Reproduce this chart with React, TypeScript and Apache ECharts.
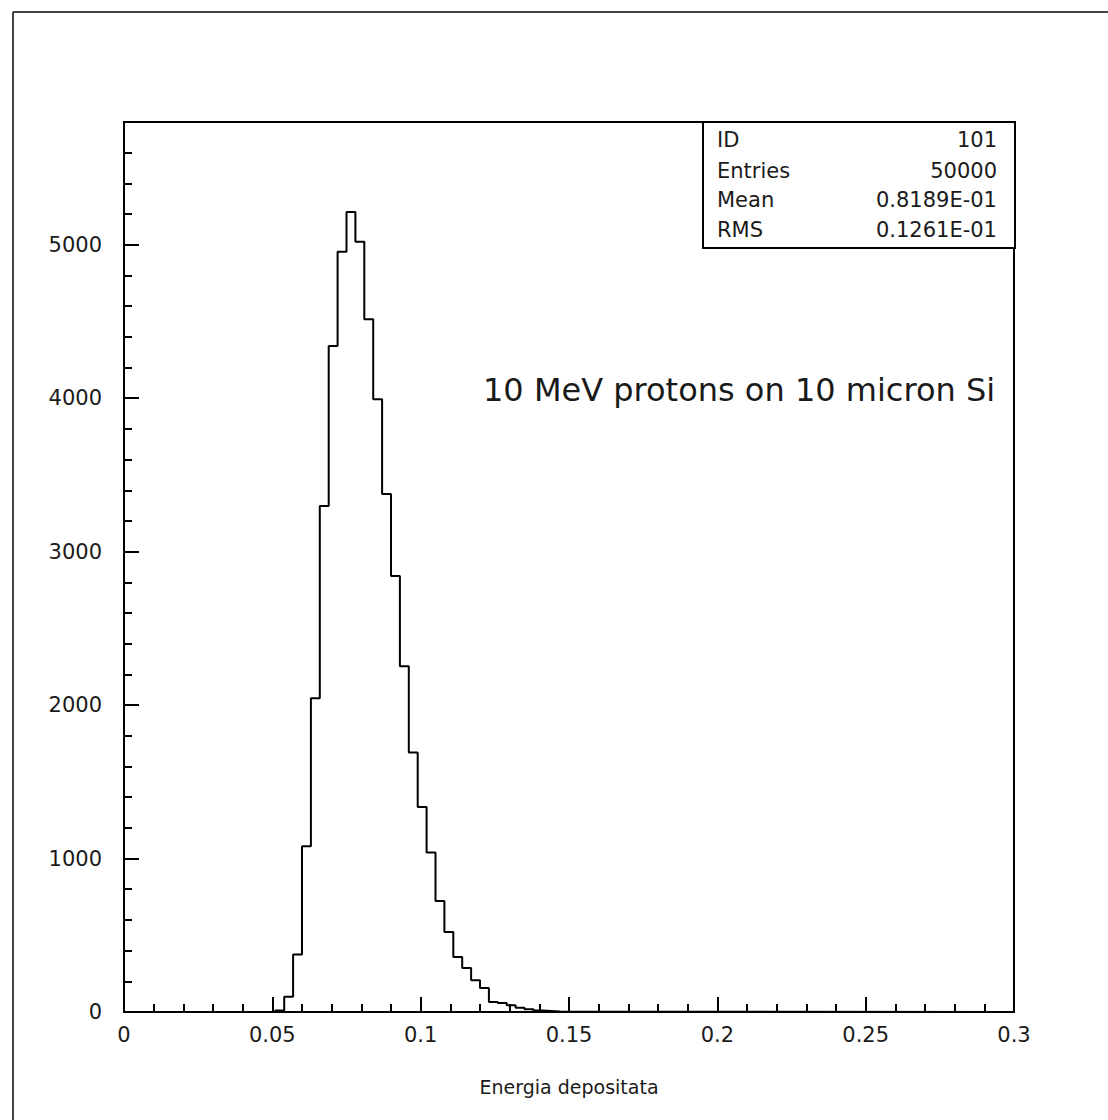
import React, { useEffect, useRef } from "react";
import * as echarts from "echarts";

// Histogram: bins of width 0.003 starting at 0.051 (lower edges)
const binStart = 0.051;
const binWidth = 0.003;
const counts = [
  10, 100, 375, 1080, 2045, 3297, 4341, 4954, 5213, 5020, 4514, 3994, 3375,
  2842, 2254, 1691, 1336, 1040, 724, 521, 359, 287, 207, 157, 65, 58, 44, 28,
  18, 10, 7, 4, 2,
];
const xTickLabels = ["0", "0.05", "0.1", "0.15", "0.2", "0.25", "0.3"];
const yTickLabels = ["0", "1000", "2000", "3000", "4000", "5000"];
const statsLabels = ["ID", "Entries", "Mean", "RMS"];
const statsValues = ["101", "50000", "0.8189E-01", "0.1261E-01"];
const titleText = "10 MeV protons on 10 micron Si";
const xAxisName = "Energia depositata";

const FONT = "DejaVu Sans";
const TXT = "#1a1a1a";

export default function App() {
  const ref = useRef<HTMLDivElement>(null);
  useEffect(() => {
    if (!ref.current) return;
    const chart = echarts.init(ref.current, null, { renderer: "svg" });

    const pts: number[][] = [[0, 0]];
    counts.forEach((c, i) => {
      pts.push([+(binStart + i * binWidth).toFixed(4), c]);
    });
    pts.push([+(binStart + counts.length * binWidth).toFixed(4), 0]);
    pts.push([0.3, 0]);

    const rowY = [140, 171, 200, 230];
    const statGraphics: any[] = [
      {
        type: "rect",
        shape: { x: 703, y: 122, width: 312, height: 126 },
        style: { fill: "#fff", stroke: "#000", lineWidth: 2 },
        z: 10,
      },
    ];
    statsLabels.forEach((l, i) => {
      statGraphics.push({
        type: "text",
        x: 717,
        y: rowY[i],
        z: 11,
        style: {
          text: l,
          fill: TXT,
          font: `21px "${FONT}"`,
          textAlign: "left",
          textVerticalAlign: "middle",
        },
      });
      statGraphics.push({
        type: "text",
        x: 997,
        y: rowY[i],
        z: 11,
        style: {
          text: statsValues[i],
          fill: TXT,
          font: `21px "${FONT}"`,
          textAlign: "right",
          textVerticalAlign: "middle",
        },
      });
    });

    chart.setOption({
      animation: false,
      backgroundColor: "#fff",
      grid: {
        left: 124,
        top: 122,
        width: 890,
        height: 890,
        show: true,
        borderColor: "#000",
        borderWidth: 2,
        backgroundColor: "transparent",
      },
      xAxis: {
        type: "value",
        min: 0,
        max: 0.3,
        interval: 0.05,
        name: xAxisName,
        nameLocation: "middle",
        nameGap: 65,
        nameTextStyle: { fontFamily: FONT, fontSize: 19, color: TXT },
        axisLine: { show: true, lineStyle: { color: "#000", width: 2 } },
        axisTick: { show: true, inside: true, length: 15, lineStyle: { color: "#000", width: 2 } },
        minorTick: { show: true, splitNumber: 5, length: 8, lineStyle: { color: "#000", width: 2 } },
        splitLine: { show: false },
        minorSplitLine: { show: false },
        axisLabel: {
          fontFamily: FONT,
          fontSize: 21,
          color: TXT,
          margin: 12,
          formatter: (v: number) => xTickLabels[Math.round(v / 0.05)] ?? "",
        },
      },
      yAxis: [
        {
          type: "value",
          min: 0,
          max: 5800,
          interval: 1000,
          axisLine: { show: true, lineStyle: { color: "#000", width: 2 } },
          axisTick: { show: true, inside: true, length: 15, lineStyle: { color: "#000", width: 2 } },
          splitLine: { show: false },
          axisLabel: {
            fontFamily: FONT,
            fontSize: 21,
            color: TXT,
            margin: 22,
            showMaxLabel: true,
            formatter: (v: number) =>
              v % 1000 === 0 ? yTickLabels[v / 1000] ?? "" : "",
          },
        },
        {
          type: "value",
          min: 0,
          max: 5800,
          interval: 200,
          position: "left",
          axisLine: { show: false },
          axisTick: { show: true, inside: true, length: 8, lineStyle: { color: "#000", width: 2 } },
          splitLine: { show: false },
          axisLabel: { show: false },
        },
      ],
      series: [
        {
          type: "line",
          step: "end",
          yAxisIndex: 0,
          symbol: "none",
          data: pts,
          lineStyle: { color: "#000", width: 2 },
          z: 5,
        },
      ],
      graphic: [
        {
          type: "line",
          shape: { x1: 13, y1: 12, x2: 1108, y2: 12 },
          style: { stroke: "#444", lineWidth: 2 },
        },
        {
          type: "line",
          shape: { x1: 13, y1: 12, x2: 13, y2: 1120 },
          style: { stroke: "#444", lineWidth: 2 },
        },
        {
          type: "text",
          x: 483,
          y: 390,
          z: 11,
          style: {
            text: titleText,
            fill: TXT,
            font: `32px "${FONT}"`,
            textAlign: "left",
            textVerticalAlign: "middle",
          },
        },
        ...statGraphics,
      ],
    });
    return () => chart.dispose();
  }, []);
  return (
    <div
      ref={ref}
      style={{ position: "absolute", left: 0, top: 0, width: 1108, height: 1120 }}
    />
  );
}
